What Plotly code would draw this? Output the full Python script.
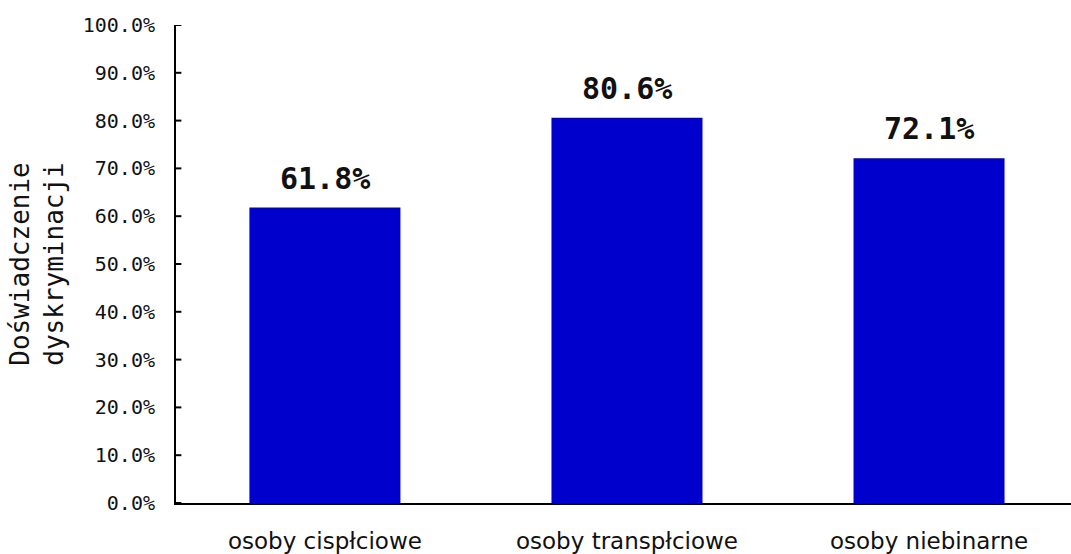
import plotly.graph_objects as go

categories = ["osoby cispłciowe", "osoby transpłciowe", "osoby niebinarne"]
values = [61.8, 80.6, 72.1]  # percent
tick_vals = [i / 10 for i in range(11)]
tick_text = [f"{v * 100:.1f}%" for v in tick_vals]

fig = go.Figure()
fig.add_trace(go.Bar(
    x=categories,
    y=[v / 100 for v in values],
    width=0.5,
    marker=dict(color="#0000CC", line=dict(width=0)),
    hoverinfo="skip",
))

for cat, v in zip(categories, values):
    fig.add_annotation(
        x=cat, y=v / 100, text=f"<b>{v:.1f}%</b>",
        showarrow=False, yanchor="bottom", yshift=10,
        font=dict(family="DejaVu Sans Mono", size=30, color="#111111"),
    )

# short tick marks pointing into the plot from the y axis line
for tv in tick_vals:
    fig.add_shape(
        type="line", xref="x domain", yref="y",
        x0=0, x1=0.006, y0=tv, y1=tv,
        line=dict(color="black", width=2), layer="above",
    )

fig.update_layout(
    width=1071, height=554,
    margin=dict(l=176, r=0, t=25, b=51),
    paper_bgcolor="white", plot_bgcolor="white",
    showlegend=False,
    xaxis=dict(
        range=[-0.493, 2.47],
        showline=True, linecolor="black", linewidth=2,
        ticks="", showgrid=False,
        ticklabelstandoff=16,
        tickfont=dict(family="DejaVu Sans", size=23, color="#111111"),
    ),
    yaxis=dict(
        range=[0, 1],
        tickvals=tick_vals, ticktext=tick_text,
        showline=True, linecolor="black", linewidth=2,
        ticks="", ticklabelstandoff=15,
        showgrid=False, zeroline=False,
        tickfont=dict(family="DejaVu Sans Mono", size=20, color="#111111"),
        title=dict(
            text="Doświadczenie<br>dyskryminacji",
            font=dict(family="DejaVu Sans Mono", size=26, color="#111111"),
            standoff=12,
        ),
    ),
)

fig.write_html("out.html")
